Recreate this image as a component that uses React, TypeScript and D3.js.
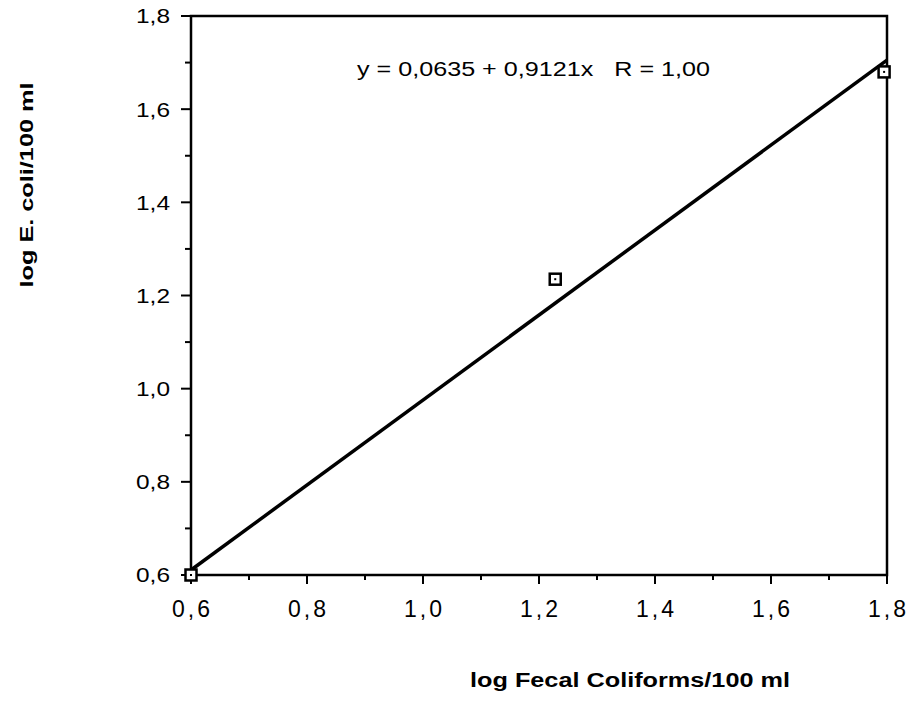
import React from "react";
import * as d3 from "d3";

// Observations (log10 counts per 100 ml)
const fecalColiforms = [0.6, 1.228, 1.795];
const eColi = [0.6, 1.235, 1.68];

// Regression fit
const intercept = 0.0635;
const slope = 0.9121;
const fitLabel = "y = 0,0635 + 0,9121x   R = 1,00";

const xMajorTicks = [0.6, 0.8, 1.0, 1.2, 1.4, 1.6, 1.8];
const yMajorTicks = [0.6, 0.8, 1.0, 1.2, 1.4, 1.6, 1.8];
const minorTicks = [0.7, 0.9, 1.1, 1.3, 1.5, 1.7];

const xTitle = "log Fecal Coliforms/100 ml";
const yTitle = "log E. coli/100 ml";

const W = 912;
const H = 704;
const left = 191;
const right = 887;
const top = 16;
const bottom = 575;

const fmt = (v: number) => v.toFixed(1).replace(".", ",");

export default function App() {
  const x = d3.scaleLinear().domain([0.6, 1.8]).range([left, right]);
  const y = d3.scaleLinear().domain([0.6, 1.8]).range([bottom, top]);
  const font = "Arial, 'Liberation Sans', Helvetica, sans-serif";

  const fitLine = d3
    .line<number>()
    .x((d) => x(d))
    .y((d) => y(intercept + slope * d));

  return (
    <svg
      width={W}
      height={H}
      style={{ position: "absolute", left: 0, top: 0, background: "#fff" }}
      fontFamily={font}
    >
      <rect x={0} y={0} width={W} height={H} fill="#fff" />

      {/* frame */}
      <rect
        x={left}
        y={top}
        width={right - left}
        height={bottom - top}
        fill="none"
        stroke="#000"
        strokeWidth={2.5}
      />

      {/* y axis ticks and labels */}
      {yMajorTicks.map((t) => (
        <g key={"ym" + t}>
          <line x1={left - 10} x2={left} y1={y(t)} y2={y(t)} stroke="#000" strokeWidth={2} />
          <text
            x={170}
            y={y(t)}
            dy="0.38em"
            textAnchor="end"
            fontSize={19.5}
            textLength={34}
            lengthAdjust="spacingAndGlyphs"
            fill="#000"
          >
            {fmt(t)}
          </text>
        </g>
      ))}
      {minorTicks.map((t) => (
        <line key={"yn" + t} x1={left - 6} x2={left} y1={y(t)} y2={y(t)} stroke="#000" strokeWidth={2} />
      ))}

      {/* x axis ticks and labels */}
      {xMajorTicks.map((t) => (
        <g key={"xm" + t}>
          <line x1={x(t)} x2={x(t)} y1={bottom} y2={bottom + 9} stroke="#000" strokeWidth={2} />
          <text
            x={x(t)}
            y={617}
            dx={1.5}
            textAnchor="middle"
            fontSize={23}
            letterSpacing={3}
            fill="#000"
          >
            {fmt(t)}
          </text>
        </g>
      ))}
      {minorTicks.map((t) => (
        <line key={"xn" + t} x1={x(t)} x2={x(t)} y1={bottom} y2={bottom + 5} stroke="#000" strokeWidth={2} />
      ))}

      {/* regression line */}
      <path d={fitLine([0.6, 1.8]) ?? ""} fill="none" stroke="#000" strokeWidth={3.5} />

      {/* data points */}
      {fecalColiforms.map((fx, i) => (
        <g key={"p" + i}>
          <rect
            x={x(fx) - 5.5}
            y={y(eColi[i]) - 5.5}
            width={11}
            height={11}
            fill="#fff"
            stroke="#000"
            strokeWidth={2.5}
          />
          <rect x={x(fx) - 1} y={y(eColi[i]) - 1} width={2} height={2} fill="#000" />
        </g>
      ))}

      {/* fit equation */}
      <text
        x={357}
        y={76}
        fontSize={19.5}
        textLength={353}
        lengthAdjust="spacingAndGlyphs"
        fill="#000"
        style={{ whiteSpace: "pre" }}
      >
        {fitLabel}
      </text>

      {/* axis titles */}
      <text
        x={630}
        y={687}
        textAnchor="middle"
        fontSize={19.5}
        fontWeight="bold"
        textLength={320}
        lengthAdjust="spacingAndGlyphs"
        fill="#000"
      >
        {xTitle}
      </text>
      <text
        transform={`translate(33,185) rotate(-90)`}
        textAnchor="middle"
        fontSize={19}
        fontWeight="bold"
        textLength={205}
        lengthAdjust="spacingAndGlyphs"
        fill="#000"
      >
        {yTitle}
      </text>
    </svg>
  );
}
